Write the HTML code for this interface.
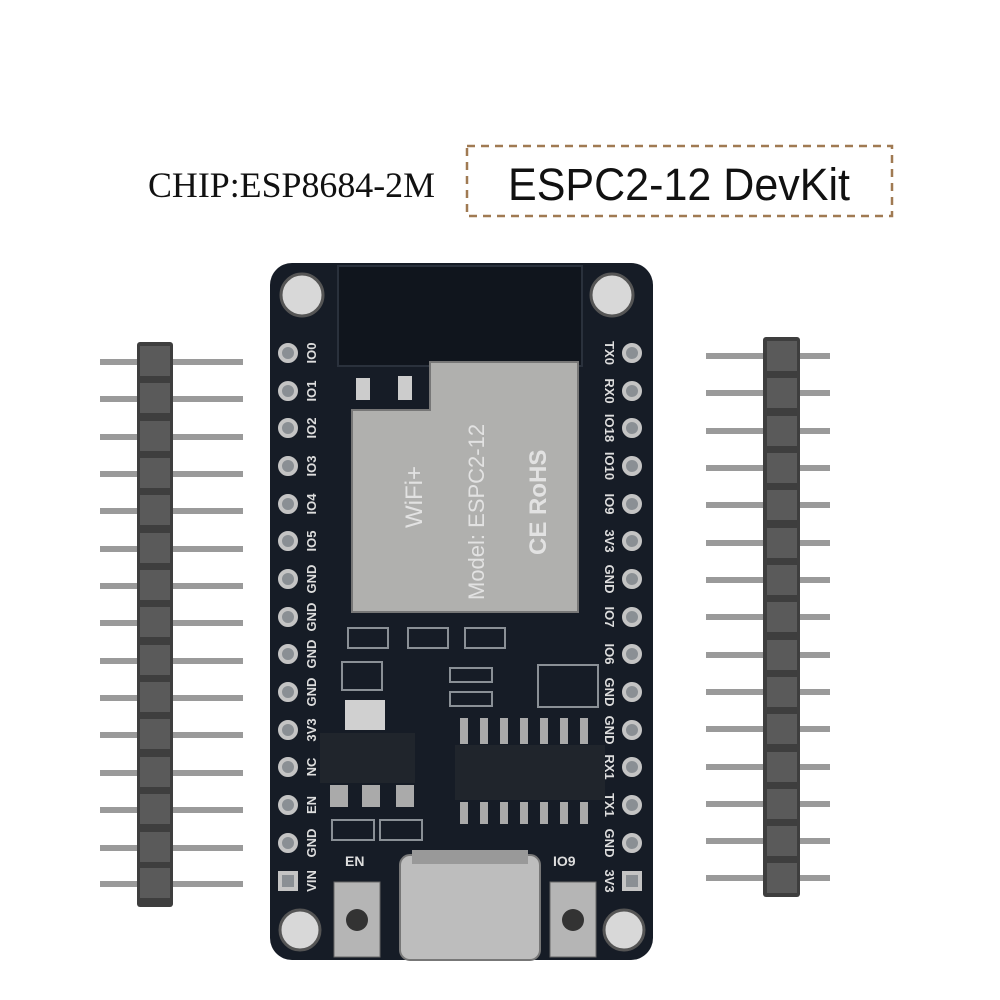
<!DOCTYPE html>
<html><head><meta charset="utf-8"><style>html,body{margin:0;padding:0;background:#fff}svg{display:block}</style></head>
<body>
<svg width="1000" height="1000" viewBox="0 0 1000 1000" xmlns="http://www.w3.org/2000/svg">
<rect width="1000" height="1000" fill="#fff"/>
<text x="148" y="197" font-family="Liberation Serif, serif" font-size="36" textLength="287" lengthAdjust="spacingAndGlyphs" fill="#111">CHIP:ESP8684-2M</text>
<rect x="467" y="146" width="425" height="70" fill="none" stroke="#a07a52" stroke-width="2.5" stroke-dasharray="8,6"/>
<text x="508" y="200" font-family="Liberation Sans, sans-serif" font-size="45" textLength="342" lengthAdjust="spacingAndGlyphs" fill="#111">ESPC2-12 DevKit</text>

<g fill="#9a9a9a">
<rect x="100" y="359" width="143" height="6"/><rect x="100" y="396" width="143" height="6"/><rect x="100" y="434" width="143" height="6"/><rect x="100" y="471" width="143" height="6"/><rect x="100" y="508" width="143" height="6"/><rect x="100" y="546" width="143" height="6"/><rect x="100" y="583" width="143" height="6"/><rect x="100" y="620" width="143" height="6"/><rect x="100" y="658" width="143" height="6"/><rect x="100" y="695" width="143" height="6"/><rect x="100" y="732" width="143" height="6"/><rect x="100" y="770" width="143" height="6"/><rect x="100" y="807" width="143" height="6"/><rect x="100" y="845" width="143" height="6"/><rect x="100" y="881" width="143" height="6"/>
</g>
<rect x="137" y="342" width="36" height="565" rx="3" fill="#3e3e3e"/>
<g fill="#5a5a5a">
<rect x="140" y="346" width="30" height="30"/><rect x="140" y="383" width="30" height="30"/><rect x="140" y="421" width="30" height="30"/><rect x="140" y="458" width="30" height="30"/><rect x="140" y="495" width="30" height="30"/><rect x="140" y="533" width="30" height="30"/><rect x="140" y="570" width="30" height="30"/><rect x="140" y="607" width="30" height="30"/><rect x="140" y="645" width="30" height="30"/><rect x="140" y="682" width="30" height="30"/><rect x="140" y="719" width="30" height="30"/><rect x="140" y="757" width="30" height="30"/><rect x="140" y="794" width="30" height="30"/><rect x="140" y="832" width="30" height="30"/><rect x="140" y="868" width="30" height="30"/>
</g>
<g fill="#9a9a9a">
<rect x="706" y="353" width="124" height="6"/><rect x="706" y="390" width="124" height="6"/><rect x="706" y="428" width="124" height="6"/><rect x="706" y="465" width="124" height="6"/><rect x="706" y="502" width="124" height="6"/><rect x="706" y="540" width="124" height="6"/><rect x="706" y="577" width="124" height="6"/><rect x="706" y="614" width="124" height="6"/><rect x="706" y="652" width="124" height="6"/><rect x="706" y="689" width="124" height="6"/><rect x="706" y="726" width="124" height="6"/><rect x="706" y="764" width="124" height="6"/><rect x="706" y="801" width="124" height="6"/><rect x="706" y="838" width="124" height="6"/><rect x="706" y="875" width="124" height="6"/>
</g>
<rect x="763" y="337" width="37" height="560" rx="3" fill="#3e3e3e"/>
<g fill="#5a5a5a">
<rect x="767" y="341" width="30" height="30"/><rect x="767" y="378" width="30" height="30"/><rect x="767" y="416" width="30" height="30"/><rect x="767" y="453" width="30" height="30"/><rect x="767" y="490" width="30" height="30"/><rect x="767" y="528" width="30" height="30"/><rect x="767" y="565" width="30" height="30"/><rect x="767" y="602" width="30" height="30"/><rect x="767" y="640" width="30" height="30"/><rect x="767" y="677" width="30" height="30"/><rect x="767" y="714" width="30" height="30"/><rect x="767" y="752" width="30" height="30"/><rect x="767" y="789" width="30" height="30"/><rect x="767" y="826" width="30" height="30"/><rect x="767" y="863" width="30" height="30"/>
</g>

<rect x="270" y="263" width="383" height="697" rx="22" fill="#161c26"/>
<rect x="338" y="266" width="244" height="100" fill="#10151d" stroke="#2a313c" stroke-width="2"/>
<circle cx="302" cy="295" r="21" fill="#d8d8d8" stroke="#555" stroke-width="3"/>
<circle cx="612" cy="295" r="21" fill="#d8d8d8" stroke="#555" stroke-width="3"/>
<circle cx="300" cy="930" r="20" fill="#d8d8d8" stroke="#555" stroke-width="3"/>
<circle cx="624" cy="930" r="20" fill="#d8d8d8" stroke="#555" stroke-width="3"/>

<path d="M430 362 H578 V612 H352 V410 H430 Z" fill="#b0b0ae" stroke="#777" stroke-width="2"/>
<rect x="356" y="378" width="14" height="22" fill="#ccc"/><rect x="398" y="376" width="14" height="24" fill="#ccc"/>
<text transform="translate(422,528) rotate(-90)" font-family="Liberation Sans, sans-serif" font-size="24" fill="#e2e2e2">WiFi+</text>
<text transform="translate(484,600) rotate(-90)" font-family="Liberation Sans, sans-serif" font-size="22" fill="#e2e2e2">Model: ESPC2-12</text>
<text transform="translate(546,555) rotate(-90)" font-family="Liberation Sans, sans-serif" font-weight="bold" font-size="24" fill="#e2e2e2">CE RoHS</text>

<g fill="none" stroke="#8a9096" stroke-width="2">
<rect x="348" y="628" width="40" height="20"/><rect x="408" y="628" width="40" height="20"/><rect x="465" y="628" width="40" height="20"/>
<rect x="342" y="662" width="40" height="28"/>
<rect x="450" y="668" width="42" height="14"/><rect x="450" y="692" width="42" height="14"/>
<rect x="538" y="665" width="60" height="42"/>
<rect x="332" y="820" width="42" height="20"/><rect x="380" y="820" width="42" height="20"/>
</g>
<rect x="345" y="700" width="40" height="30" fill="#d0d0d0"/>
<rect x="320" y="733" width="95" height="50" fill="#20252c"/>
<rect x="455" y="745" width="150" height="55" fill="#20252c"/>
<g fill="#aaa">
<rect x="460" y="718" width="8" height="26"/><rect x="480" y="718" width="8" height="26"/><rect x="500" y="718" width="8" height="26"/><rect x="520" y="718" width="8" height="26"/><rect x="540" y="718" width="8" height="26"/><rect x="560" y="718" width="8" height="26"/><rect x="580" y="718" width="8" height="26"/>
<rect x="460" y="802" width="8" height="22"/><rect x="480" y="802" width="8" height="22"/><rect x="500" y="802" width="8" height="22"/><rect x="520" y="802" width="8" height="22"/><rect x="540" y="802" width="8" height="22"/><rect x="560" y="802" width="8" height="22"/><rect x="580" y="802" width="8" height="22"/>
<rect x="330" y="785" width="18" height="22"/><rect x="362" y="785" width="18" height="22"/><rect x="396" y="785" width="18" height="22"/>
</g>
<rect x="400" y="855" width="140" height="105" rx="10" fill="#bdbdbd" stroke="#777" stroke-width="2"/>
<rect x="412" y="850" width="116" height="14" fill="#999"/>
<rect x="334" y="882" width="46" height="75" fill="#b5b5b5" stroke="#666"/><circle cx="357" cy="920" r="11" fill="#333"/>
<rect x="550" y="882" width="46" height="75" fill="#b5b5b5" stroke="#666"/><circle cx="573" cy="920" r="11" fill="#333"/>
<text x="345" y="866" font-family="Liberation Sans, sans-serif" font-weight="bold" font-size="14" fill="#ddd">EN</text>
<text x="553" y="866" font-family="Liberation Sans, sans-serif" font-weight="bold" font-size="14" fill="#ddd">IO9</text>

<g fill="#8a8f94" stroke="#c4c4c4" stroke-width="4">
<circle cx="288" cy="353" r="8"/><circle cx="288" cy="391" r="8"/><circle cx="288" cy="428" r="8"/><circle cx="288" cy="466" r="8"/><circle cx="288" cy="504" r="8"/><circle cx="288" cy="541" r="8"/><circle cx="288" cy="579" r="8"/><circle cx="288" cy="617" r="8"/><circle cx="288" cy="654" r="8"/><circle cx="288" cy="692" r="8"/><circle cx="288" cy="730" r="8"/><circle cx="288" cy="767" r="8"/><circle cx="288" cy="805" r="8"/><circle cx="288" cy="843" r="8"/>
<rect x="280" y="873" width="16" height="16"/>
<circle cx="632" cy="353" r="8"/><circle cx="632" cy="391" r="8"/><circle cx="632" cy="428" r="8"/><circle cx="632" cy="466" r="8"/><circle cx="632" cy="504" r="8"/><circle cx="632" cy="541" r="8"/><circle cx="632" cy="579" r="8"/><circle cx="632" cy="617" r="8"/><circle cx="632" cy="654" r="8"/><circle cx="632" cy="692" r="8"/><circle cx="632" cy="730" r="8"/><circle cx="632" cy="767" r="8"/><circle cx="632" cy="805" r="8"/><circle cx="632" cy="843" r="8"/>
<rect x="624" y="873" width="16" height="16"/>
</g>
<g font-family="Liberation Sans, sans-serif" font-weight="bold" font-size="13" fill="#ddd" text-anchor="middle">
<text transform="translate(316,353) rotate(-90)">IO0</text><text transform="translate(316,391) rotate(-90)">IO1</text><text transform="translate(316,428) rotate(-90)">IO2</text><text transform="translate(316,466) rotate(-90)">IO3</text><text transform="translate(316,504) rotate(-90)">IO4</text><text transform="translate(316,541) rotate(-90)">IO5</text><text transform="translate(316,579) rotate(-90)">GND</text><text transform="translate(316,617) rotate(-90)">GND</text><text transform="translate(316,654) rotate(-90)">GND</text><text transform="translate(316,692) rotate(-90)">GND</text><text transform="translate(316,730) rotate(-90)">3V3</text><text transform="translate(316,767) rotate(-90)">NC</text><text transform="translate(316,805) rotate(-90)">EN</text><text transform="translate(316,843) rotate(-90)">GND</text><text transform="translate(316,881) rotate(-90)">VIN</text>
<text transform="translate(605,353) rotate(90)">TX0</text><text transform="translate(605,391) rotate(90)">RX0</text><text transform="translate(605,428) rotate(90)">IO18</text><text transform="translate(605,466) rotate(90)">IO10</text><text transform="translate(605,504) rotate(90)">IO9</text><text transform="translate(605,541) rotate(90)">3V3</text><text transform="translate(605,579) rotate(90)">GND</text><text transform="translate(605,617) rotate(90)">IO7</text><text transform="translate(605,654) rotate(90)">IO6</text><text transform="translate(605,692) rotate(90)">GND</text><text transform="translate(605,730) rotate(90)">GND</text><text transform="translate(605,767) rotate(90)">RX1</text><text transform="translate(605,805) rotate(90)">TX1</text><text transform="translate(605,843) rotate(90)">GND</text><text transform="translate(605,881) rotate(90)">3V3</text>
</g>
</svg>
</body></html>
